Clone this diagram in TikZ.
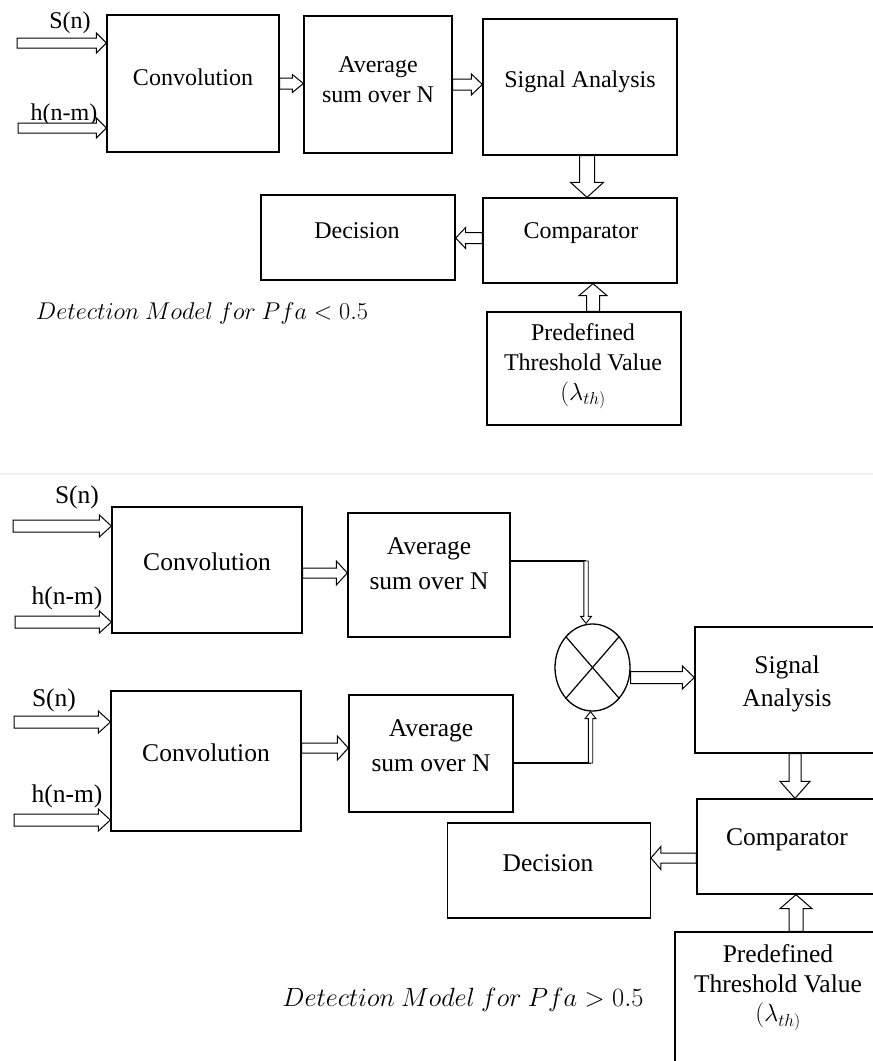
\documentclass[tikz,border=0pt]{standalone}
\usepackage{fontspec}
\setmainfont{Liberation Serif}
\usetikzlibrary{calc,shapes.geometric}
\tikzset{
  box/.style={draw, line width=1.3pt, rectangle, inner sep=0pt},
  tA/.style={font=\fontsize{24}{30}\selectfont, align=center, inner sep=0pt},
  tB/.style={font=\fontsize{25.5}{35}\selectfont, align=center, inner sep=0pt},
  detect/.style={font=\fontsize{24}{28}\selectfont, inner sep=0pt, scale=#1, transform shape},
  blockarrow/.style={draw, line width=1pt, fill=white, line join=miter},
  wire/.style={draw, line width=1.2pt},
}
% hollow block arrow: [opts]{from}{to}{shaft half width}{head half width}{head length}
\newcommand{\blockarr}[6][]{%
  \coordinate (bah) at ($(#3)!#6!(#2)$);
  \draw[blockarrow,#1] ($(#2)!#4!90:(#3)$) -- ($(bah)!#4!-90:(#2)$) -- ($(bah)!#5!-90:(#2)$) -- (#3)
     -- ($(bah)!#5!90:(#2)$) -- ($(bah)!#4!90:(#2)$) -- ($(#2)!#4!-90:(#3)$) -- cycle;
}
\begin{document}
\begin{tikzpicture}[x=1pt,y=-1pt]
\useasboundingbox (0,0) rectangle (873,1061);
\fill[white] (0,0) rectangle (873,1061);
\clip (0,0) rectangle (873,1061);
\draw[gray!12, line width=1.5pt] (0,474) -- (873,474);

% ================= top model =================
\node[box, minimum width=172pt, minimum height=137pt] (conv1) at (193,83.5) {};
\node[box, minimum width=148pt, minimum height=137pt] (avg1) at (378,84.5) {};
\node[box, minimum width=194pt, minimum height=136pt] (sig1) at (580,87) {};
\node[box, minimum width=194pt, minimum height=85pt] (comp1) at (580,240.5) {};
\node[box, minimum width=194pt, minimum height=85pt] (dec1) at (358,237.5) {};
\node[box, minimum width=194pt, minimum height=113pt] (thr1) at (584,368.5) {};

\node[tA] (conv1t) at (193,77) {Convolution};
\node[tA] (avg1t) at (378,80) {Average\\sum over N};
\node[tA] (sig1t) at (580,82) {Signal Analysis};
\node[tA] (comp1t) at (581,233) {Comparator};
\node[tA] (dec1t) at (357,231) {Decision};
\node[tA] (thr1t) at (583,366.5) {Predefined\\Threshold Value\\$(\lambda_{th)}$};
\node[tA] (s1l) at (70,23) {S(n)};
\node[tA] (h1l) at (64,115) {h(n-m)};
\node[detect=0.975] (det1) at (202,313) {$Detection\ Model\ for\ Pfa<0.5$};

\coordinate (s1a) at (17,43);  \coordinate (s1b) at (conv1.west |- s1a);
\blockarr{s1a}{s1b}{5pt}{10pt}{10pt}
\coordinate (h1a) at (18,128); \coordinate (h1b) at (conv1.west |- h1a);
\blockarr{h1a}{h1b}{5pt}{10pt}{10pt}
\coordinate (c1b) at (avg1.west |- conv1.east);
\blockarr{conv1.east}{c1b}{5.5pt}{9pt}{11pt}
\coordinate (a1b) at (sig1.west |- avg1.east);
\blockarr{avg1.east}{a1b}{5.5pt}{10.5pt}{11pt}
\coordinate (g1a) at ([xshift=7pt]sig1.south); \coordinate (g1b) at (g1a |- comp1.north);
\blockarr{g1a}{g1b}{7.5pt}{16.5pt}{15pt}
\coordinate (m1a) at ([yshift=2.5pt]comp1.west); \coordinate (m1b) at (dec1.east |- m1a);
\blockarr{m1a}{m1b}{5.5pt}{10.5pt}{10pt}
\coordinate (t1a) at ([xshift=9pt]thr1.north); \coordinate (t1b) at (t1a |- comp1.south);
\blockarr{t1a}{t1b}{6.5pt}{14pt}{12pt}

% ================= bottom model =================
\node[box, minimum width=190pt, minimum height=126pt] (conv2a) at (207,570) {};
\node[box, minimum width=162pt, minimum height=124pt] (avg2a) at (429,575) {};
\node[box, minimum width=190pt, minimum height=140pt] (conv2b) at (206,761) {};
\node[box, minimum width=164pt, minimum height=117pt] (avg2b) at (431,753.5) {};
\node[draw, ellipse, line width=1.3pt, minimum width=75pt, minimum height=87pt, inner sep=0pt] (mult) at (592.5,667.5) {};
\node[box, minimum width=184pt, minimum height=126pt] (sig2) at (787,690) {};
\node[box, minimum width=180pt, minimum height=95pt] (comp2) at (787,846.5) {};
\node[box, minimum width=202.5pt, minimum height=95pt] (dec2) at (549,870.5) {};
\node[box, minimum width=206pt, minimum height=138pt] (thr2) at (778,1001) {};

\draw[wire] (mult.north east) -- (mult.south west);
\draw[wire] (mult.north west) -- (mult.south east);

\node[tB] (conv2at) at (207,562) {Convolution};
\node[tB] (avg2at) at (429,563.5) {Average\\sum over N};
\node[tB] (conv2bt) at (206,753) {Convolution};
\node[tB] (avg2bt) at (431,745.5) {Average\\sum over N};
\node[tB, font=\fontsize{25.5}{33}\selectfont] (sig2t) at (787,683.5) {Signal\\Analysis};
\node[tB] (comp2t) at (787,840) {Comparator};
\node[tB] (dec2t) at (548,863) {Decision};
\node[tB, font=\fontsize{25.5}{29.5}\selectfont] (thr2t) at (778,987.5) {Predefined\\Threshold Value\\$(\lambda_{th)}$};
\node[tB] (s2al) at (77,497) {S(n)};
\node[tB] (h2al) at (67,598) {h(n-m)};
\node[tB] (s2bl) at (54,700) {S(n)};
\node[tB] (h2bl) at (67,796) {h(n-m)};
\node[detect=1.06] (det2) at (463,1000) {$Detection\ Model\ for\ Pfa>0.5$};

\coordinate (s2aa) at (13,526); \coordinate (s2ab) at (conv2a.west |- s2aa);
\blockarr{s2aa}{s2ab}{6pt}{11pt}{12pt}
\coordinate (h2aa) at (15,622); \coordinate (h2ab) at (conv2a.west |- h2aa);
\blockarr{h2aa}{h2ab}{6pt}{11pt}{12pt}
\coordinate (s2ba) at (14,722); \coordinate (s2bb) at (conv2b.west |- s2ba);
\blockarr{s2ba}{s2bb}{6pt}{11pt}{12pt}
\coordinate (h2ba) at (14,820); \coordinate (h2bb) at (conv2b.west |- h2ba);
\blockarr{h2ba}{h2bb}{6pt}{11pt}{12pt}

\coordinate (c2aa) at ([yshift=-3pt]conv2a.east); \coordinate (c2ab) at (avg2a.west |- c2aa);
\blockarr{c2aa}{c2ab}{5pt}{12pt}{11pt}
\coordinate (c2ba) at ([yshift=13pt]conv2b.east); \coordinate (c2bb) at (avg2b.west |- c2ba);
\blockarr{c2ba}{c2bb}{5pt}{12pt}{11pt}

\coordinate (k1) at (586,561);
\draw[wire] (k1 -| avg2a.east) -- (k1);
\coordinate (k1b) at (k1 |- mult.north);
\blockarr[line width=0.9pt]{k1}{k1b}{2.2pt}{5.5pt}{7pt}
\coordinate (k2) at (590.5,763);
\draw[wire] (k2 -| avg2b.east) -- (k2);
\coordinate (k2b) at (k2 |- mult.south);
\blockarr[line width=0.9pt]{k2}{k2b}{2.2pt}{5.5pt}{7pt}

\coordinate (x2a) at ([yshift=-10pt]mult.east); \coordinate (x2b) at (sig2.west |- x2a);
\blockarr{x2a}{x2b}{6pt}{11.5pt}{12pt}
\coordinate (g2a) at ([xshift=8pt]sig2.south); \coordinate (g2b) at (g2a |- comp2.north);
\blockarr{g2a}{g2b}{6pt}{15pt}{17pt}
\coordinate (m2a) at ([yshift=-11.5pt]comp2.west); \coordinate (m2b) at (dec2.east |- m2a);
\blockarr{m2a}{m2b}{5pt}{11.5pt}{10pt}
\coordinate (t2a) at ([xshift=18pt]thr2.north); \coordinate (t2b) at (t2a |- comp2.south);
\blockarr{t2a}{t2b}{7pt}{16pt}{14pt}
\end{tikzpicture}
\end{document}
